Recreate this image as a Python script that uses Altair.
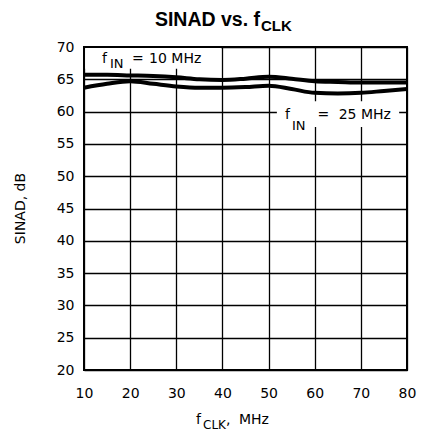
import altair as alt
import pandas as pd

# ---- data ----
f_clk = [10, 15, 20, 25, 30, 35, 40, 45, 50, 55, 60, 65, 70, 75, 80]
sinad_fin_10 = [65.7, 65.7, 65.6, 65.5, 65.3, 65.0, 64.9, 65.1, 65.4, 65.1, 64.7, 64.6, 64.5, 64.5, 64.5]
sinad_fin_25 = [63.7, 64.3, 64.7, 64.3, 63.9, 63.7, 63.7, 63.8, 64.0, 63.5, 62.9, 62.8, 62.9, 63.2, 63.5]
x_ticks = [10, 20, 30, 40, 50, 60, 70, 80]
y_ticks = [20, 25, 30, 35, 40, 45, 50, 55, 60, 65, 70]

W, H = 323, 323
FONT = "DejaVu Sans"
TFONT = "Liberation Sans, Arial"

df = pd.DataFrame({
    "fclk": f_clk * 2,
    "sinad": sinad_fin_10 + sinad_fin_25,
    "series": ["fIN = 10 MHz"] * len(f_clk) + ["fIN = 25 MHz"] * len(f_clk),
})

xs = alt.Scale(domain=[10, 80], nice=False, zero=False)
ys = alt.Scale(domain=[20, 70], nice=False, zero=False)
xax = alt.Axis(values=x_ticks, title=None, grid=True, labelPadding=16, labelFlush=False, labelOverlap=False)
yax = alt.Axis(values=y_ticks, title=None, grid=True, labelPadding=10, labelFlush=False, labelOverlap=False)

# white label boxes (annotation backgrounds, in data units)
boxes = pd.DataFrame({
    "fclk": [10.25, 51.8],
    "fclk2": [39.7, 78.3],
    "sinad": [69.85, 61.6],
    "sinad2": [66.65, 57.6],
})
box_layer = alt.Chart(boxes).mark_rect(fill="white", stroke=None).encode(
    x=alt.X("fclk:Q", scale=xs, axis=xax), x2="fclk2:Q",
    y=alt.Y("sinad:Q", scale=ys, axis=yax), y2="sinad2:Q",
)

lines = alt.Chart(df).mark_line(color="black", strokeWidth=4, interpolate="monotone").encode(
    x=alt.X("fclk:Q", scale=xs, axis=xax),
    y=alt.Y("sinad:Q", scale=ys, axis=yax),
    detail="series:N",
)

# annotation texts
ann = pd.DataFrame({
    "fclk": [13.9, 15.64, 20.4, 24.1, 53.56, 55.08, 60.6, 65.2],
    "sinad": [67.57, 66.75, 67.57, 67.57, 58.85, 57.15, 58.85, 58.85],
    "label": ["f", "IN", "=", "10 MHz", "f", "IN", "=", "25 MHz"],
    "fs": [14, 13, 14, 14, 14, 13, 14, 14],
})
ann_layer = alt.Chart(ann).mark_text(align="left", baseline="alphabetic", font=FONT, color="black").encode(
    x=alt.X("fclk:Q", scale=xs, axis=xax),
    y=alt.Y("sinad:Q", scale=ys, axis=yax),
    text="label:N",
    size=alt.Size("fs:Q", scale=None, legend=None),
)

one = pd.DataFrame({"a": [0]})


def txt(s, px, py, size, align="left", weight="normal", angle=0, font=FONT, baseline="alphabetic"):
    kw = dict(align=align, baseline=baseline, font=font, fontSize=size, fontWeight=weight, color="black", text=s)
    if angle:
        kw["angle"] = angle
    return alt.Chart(one).mark_text(**kw).encode(x=alt.value(px), y=alt.value(py))


pieces = [
    txt("SINAD vs. f", 176, -21, 19.5, align="right", weight="bold", font=TFONT),
    txt("CLK", 177, -16, 15, align="left", weight="bold", font=TFONT),
    txt("f", 112, 377, 14),
    txt("CLK", 119, 382, 12),
    txt(",", 142, 377, 14),
    txt("MHz", 155, 377, 14),
    txt("SINAD, dB", -63, H / 2, 14, align="center", angle=270, baseline="middle"),
]

border = alt.Chart(one).mark_rect(filled=False, stroke="black", strokeWidth=2).encode(
    x=alt.value(0), x2=alt.value(W), y=alt.value(0), y2=alt.value(H)
)

chart = alt.layer(box_layer, lines, ann_layer, border, *pieces).properties(
    width=W, height=H,
    padding={"left": 76, "top": 39, "right": 10, "bottom": 72},
    autosize=alt.AutoSizeParams(type="none"),
).configure_view(stroke=None).configure_axis(
    domain=False, ticks=False, gridColor="black", gridWidth=1.3, gridOpacity=1,
    labelFont=FONT, labelFontSize=14, labelColor="black",
)

chart.save("out.html", embed_options={"renderer": "svg", "actions": False})
